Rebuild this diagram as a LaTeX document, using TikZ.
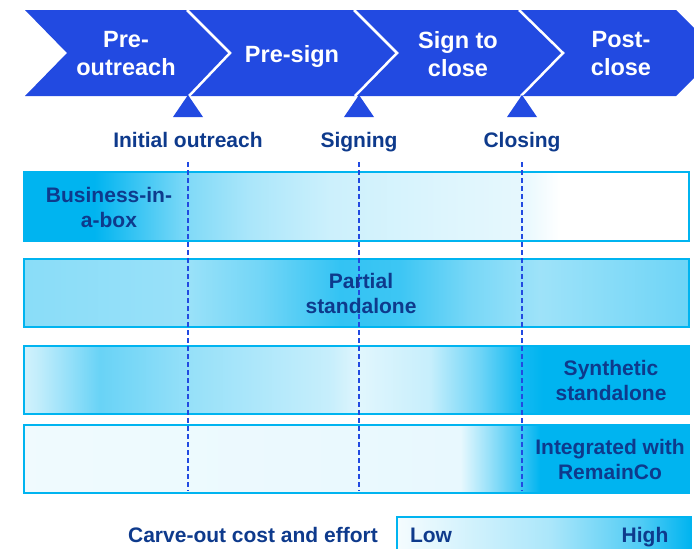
\documentclass[tikz,border=0pt]{standalone}
\usepackage{fontspec}
\setmainfont{Liberation Sans}
\definecolor{chevblue}{RGB}{34,74,225}
\definecolor{navy}{RGB}{14,58,140}
\definecolor{cyS}{RGB}{0,180,240}
\pgfdeclarehorizontalshading{rowone}{100bp}{color(0bp)=(cyS); color(30.3bp)=(cyS); color(37.5bp)=(cyS!49!white); color(42bp)=(cyS!33!white); color(48bp)=(cyS!20!white); color(57bp)=(cyS!13!white); color(62.3bp)=(cyS!10!white); color(65.3bp)=(white); color(100bp)=(white)}
\pgfdeclarehorizontalshading{rowtwo}{100bp}{color(0bp)=(cyS!46!white); color(25bp)=(cyS!46!white); color(37.5bp)=(cyS!40!white); color(42.7bp)=(cyS!55!white); color(48.8bp)=(cyS!80!white); color(53.3bp)=(cyS!76!white); color(58.5bp)=(cyS!53!white); color(63.8bp)=(cyS!38!white); color(75bp)=(cyS!57!white); color(100bp)=(cyS!57!white)}
\pgfdeclarehorizontalshading{rowthree}{100bp}{color(0bp)=(cyS!18!white); color(25bp)=(cyS!18!white); color(26.2bp)=(cyS!25!white); color(30.7bp)=(cyS!59!white); color(37.5bp)=(cyS!41!white); color(48bp)=(cyS!22!white); color(50.3bp)=(cyS!12!white); color(55.5bp)=(cyS!22!white); color(59.3bp)=(cyS!57!white); color(62.3bp)=(cyS!92!white); color(64bp)=(cyS); color(100bp)=(cyS)}
\pgfdeclarehorizontalshading{rowfour}{100bp}{color(0bp)=(cyS!6!white); color(25bp)=(cyS!6!white); color(57.8bp)=(cyS!9!white); color(60bp)=(cyS!41!white); color(62.3bp)=(cyS!76!white); color(63.8bp)=(cyS); color(100bp)=(cyS)}
\pgfdeclarehorizontalshading{legendbar}{100bp}{color(0bp)=(cyS!4!white); color(25bp)=(cyS!4!white); color(30.6bp)=(cyS!10!white); color(51bp)=(cyS!33!white); color(66.3bp)=(cyS!68!white); color(75bp)=(cyS); color(100bp)=(cyS)}
\begin{document}
\begin{tikzpicture}[x=1pt,y=-1pt,
    chevtext/.style={text=white,font=\bfseries\fontsize{23.5}{28}\selectfont,align=center,inner sep=0pt},
    mstext/.style={text=navy,font=\bfseries\fontsize{21}{25}\selectfont,inner sep=0pt,anchor=base},
    rowtext/.style={text=navy,font=\bfseries\fontsize{21}{25}\selectfont,align=center,inner sep=0pt},
    rowbar/.style={draw=cyS,line width=1.5pt},
    sepline/.style={white,line width=2.5pt},
    guide/.style={chevblue,line width=1.1pt,dash pattern=on 5pt off 3pt}]
    \useasboundingbox (0,0) rectangle (694,549);
    % phase band
    \fill[chevblue] (25,10) -- (676,10) -- (719,53) -- (676,96) -- (25,96) -- (67,53) -- cycle;
    \draw[sepline] (187,10) -- (230,53) -- (189,96);
    \draw[sepline] (354,10) -- (397,53) -- (355,96);
    \draw[sepline] (519,10) -- (563,53) -- (521,96);
    \node[chevtext] (preout) at (126,53.5) {Pre-\\outreach};
    \node[chevtext,anchor=base] (presign) at (292,62) {Pre-sign};
    \node[chevtext] (signclose) at (458,54) {Sign to\\close};
    \node[chevtext] (postclose) at (621,54) {Post-\\close};
    % milestones
    \fill[chevblue] (173,117) -- (188,95) -- (203,117) -- cycle;
    \fill[chevblue] (344,117) -- (359,95) -- (374,117) -- cycle;
    \fill[chevblue] (507,117) -- (522,95) -- (537,117) -- cycle;
    \node[mstext] (initout) at (188,147) {Initial outreach};
    \node[mstext] (signing) at (359,147) {Signing};
    \node[mstext] (closing) at (522,147) {Closing};
    % options
    \shadedraw[rowbar,shading=rowone] (24,172) rectangle (689,241);
    \shadedraw[rowbar,shading=rowtwo] (24,259) rectangle (689,327);
    \shadedraw[rowbar,shading=rowthree] (24,346) rectangle (689,414);
    \shadedraw[rowbar,shading=rowfour] (24,425) rectangle (689,493);
    \coordinate (iotop) at (188,162);
    \coordinate (iobot) at (188,491);
    \coordinate (sgtop) at (359,162);
    \coordinate (sgbot) at (359,491);
    \coordinate (cltop) at (522,162);
    \coordinate (clbot) at (522,491);
    \draw[guide] (iotop) -- (iobot);
    \draw[guide] (sgtop) -- (sgbot);
    \draw[guide] (cltop) -- (clbot);
    \node[rowtext] (bizbox) at (109,207) {Business-in-\\a-box};
    \node[rowtext] (partial) at (361,293) {Partial\\standalone};
    \node[rowtext] (synthetic) at (611,380) {Synthetic\\standalone};
    \node[rowtext] (integrated) at (610,459) {Integrated with\\RemainCo};
    % legend
    \node[mstext] (costlbl) at (253,542) {Carve-out cost and effort};
    \shadedraw[rowbar,shading=legendbar] (397,517) rectangle (691,558);
    \node[mstext] (low) at (431,542) {Low};
    \node[mstext] (high) at (645,542) {High};
\end{tikzpicture}
\end{document}
